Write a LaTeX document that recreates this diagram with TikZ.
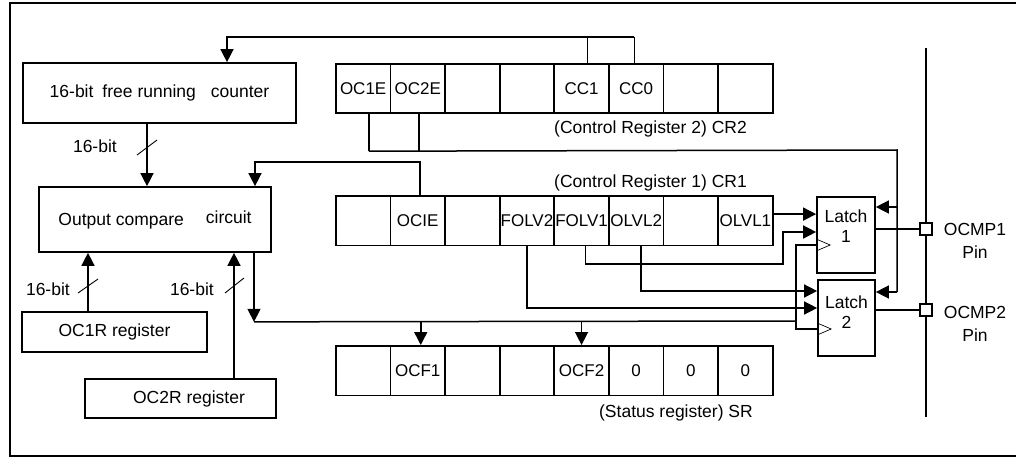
\documentclass[tikz,border=0pt]{standalone}
\usepackage{fontspec}
\setmainfont{Liberation Sans}
\usetikzlibrary{arrows.meta}
\begin{document}
\begin{tikzpicture}[x=1pt,y=-1pt,
  box/.style={draw, line width=1.7pt, inner sep=0pt, font=\fontsize{17.5}{20}\selectfont},
  cell/.style={box, minimum width=54.6pt, minimum height=49.5pt, anchor=north west, font=\fontsize{17}{20}\selectfont},
  conn/.style={line width=1.5pt},
  thinconn/.style={line width=0.9pt},
  arr/.style={conn, -{Triangle[length=13pt,width=13pt]}},
  lbl/.style={font=\fontsize{17.5}{20}\selectfont, inner sep=0pt},
  pinlbl/.style={font=\fontsize{17.5}{23}\selectfont, inner sep=0pt, align=center},
  latchlbl/.style={font=\fontsize{17.5}{20}\selectfont, inner sep=0pt, align=center},
  slash/.style={line width=0.9pt},
  pin/.style={draw, line width=1.3pt, fill=white, minimum size=12pt, inner sep=0pt},
  clk/.style={line width=0.7pt}]
\useasboundingbox (0,0) rectangle (1016,457);
% frame
\draw[line width=1.7pt] (1017,3) -- (10,3) -- (10,456) -- (1017,456);

% boxes
\node[box, minimum width=273pt, minimum height=60pt] (counter) at (159.5,93)
  {16-bit\hspace{9pt}free running\hspace{15pt}counter};
\node[box, minimum width=232pt, minimum height=65pt] (oc) at (155,219.5)
  {Output compare\hspace{22pt}\raisebox{2pt}{circuit}\hspace{8pt}};
\node[box, minimum width=185pt, minimum height=40pt] (oc1r) at (114.5,332) {OC1R register};
\node[box, minimum width=191pt, minimum height=39pt] (oc2r) at (180.5,398.5) {\hspace{17pt}OC2R register};

% registers
\foreach \t [count=\i] in {OC1E,OC2E,{},{},CC1,CC0,{},{}}
  \node[cell] (c2-\i) at ({335+(\i-1)*54.6},63) {\t};
\foreach \t [count=\i] in {{},OCIE,{},FOLV2,FOLV1,OLVL2,{},OLVL1}
  \node[cell] (c1-\i) at ({335+(\i-1)*54.6},195) {\t};
\foreach \t [count=\i] in {{},OCF1,{},{},OCF2,0,0,0}
  \node[cell] (s-\i) at ({335+(\i-1)*54.6},345) {\t};

\node[lbl, anchor=east] (cr2lbl) at (747,129) {(Control Register 2) CR2};
\node[lbl, anchor=east] (cr1lbl) at (747,183) {(Control Register 1) CR1};
\node[lbl, anchor=east] (srlbl) at (753,413) {(Status register) SR};

% latches
\node[box, minimum width=58pt, minimum height=76pt] (latch1) at (846,235) {};
\node[box, minimum width=57pt, minimum height=76pt] (latch2) at (846.5,318) {};
\node[latchlbl] (latch1t) at (846,226) {Latch\\1};
\node[latchlbl] (latch2t) at (846.5,312) {Latch\\2};

% pin line and pins
\coordinate (pintop) at (926,48);
\coordinate (pinbot) at (926,417);
\draw[conn] (pintop) -- (pinbot);
\node[pin] (p1) at (926,229) {};
\node[pin] (p2) at (926,310) {};
\node[pinlbl] (p1l) at (975,241) {OCMP1\\Pin};
\node[pinlbl] (p2l) at (975,324) {OCMP2\\Pin};

% counter feedback from CC1/CC0
\draw[thinconn] ([xshift=6pt]c2-5.north) -- ++(0,-26) coordinate (cc1top);
\draw[thinconn] ([xshift=-2pt]c2-6.north) -- ++(0,-26) coordinate (cc0top);
\coordinate (cin) at ([xshift=67.5pt]counter.north);
\draw[arr] (cc0top) -| (cin);

% counter -> output compare
\coordinate (cout) at ([xshift=-12.5pt]counter.south);
\draw[arr] (cout) -- (cout |- oc.north);
\draw[slash] (137,155) -- (157,140);
\node[lbl, anchor=east] (l1) at (117,146) {16-bit};

% OC1E / OC2E -> latches
\draw[conn] ([xshift=5.7pt]c2-1.south) -- ++(0,37) coordinate (e1);
\draw[conn] ([xshift=1pt]c2-2.south) -- ++(0,37);
\coordinate (ebus) at (897,150);
\coordinate (ebot) at (897,292);
\draw[conn] (e1) -- (ebus) -- (ebot);
\draw[arr] (ebus |- latch1.east) ++(0,-28) -- ([yshift=28pt]latch1.east);
\draw[arr] (ebot) -- ([yshift=26pt]latch2.east);

% OCIE -> output compare
\draw[arr] ([xshift=2pt]c1-2.north) -- ++(0,-33) -| ([xshift=100pt]oc.north);

% output compare -> status / clocks
\draw[arr] ([xshift=99pt]oc.south) -- ++(0,69) coordinate (bus0);
\coordinate (bus1) at (796,321);
\draw[conn] (bus0) -- (bus1);
\draw[arr] (bus0 -| s-2.north) ++(3,0) -- ([xshift=3pt]s-2.north);
\draw[arr] (bus0 -| s-5.north) -- (s-5.north);
\coordinate (ck1) at ([yshift=-10pt]latch1.west);
\coordinate (ck2) at ([yshift=-11pt]latch2.west);
\draw[conn] (ck1) -| (bus1) |- (ck2);
\draw[clk] ([yshift=6pt]ck1) -- ++(14,6) -- ++(-14,6);
\draw[clk] ([yshift=6pt]ck2) -- ++(14,6) -- ++(-14,6);

% OC1R / OC2R -> output compare
\coordinate (r1) at ([xshift=-26.5pt]oc1r.north);
\draw[arr] (r1) -- (r1 |- oc.south);
\draw[slash] (78,293) -- (98,279);
\node[lbl, anchor=east] (l2) at (70,289) {16-bit};
\coordinate (r2) at ([xshift=53.5pt]oc2r.north);
\draw[arr] (r2) -- (r2 |- oc.south);
\draw[slash] (225,293) -- (244,278);
\node[lbl, anchor=east] (l3) at (214,289) {16-bit};

% CR1 bits -> latches
\draw[arr] ([yshift=6.5pt]c1-8.east) -- ([yshift=6.5pt]c1-8.east -| latch1.west);
\draw[arr] ([xshift=4pt]c1-5.south) |- (783,264) |- ([yshift=3pt]latch1.west);
\draw[arr] ([xshift=4.7pt]c1-6.south) |- ([yshift=27pt]latch2.west);
\draw[arr] (c1-4.south) |- ([yshift=10pt]latch2.west);

% latch outputs
\draw[conn] ([yshift=6pt]latch1.east) -- (p1);
\draw[conn] ([yshift=8pt]latch2.east) -- (p2);
\end{tikzpicture}
\end{document}
